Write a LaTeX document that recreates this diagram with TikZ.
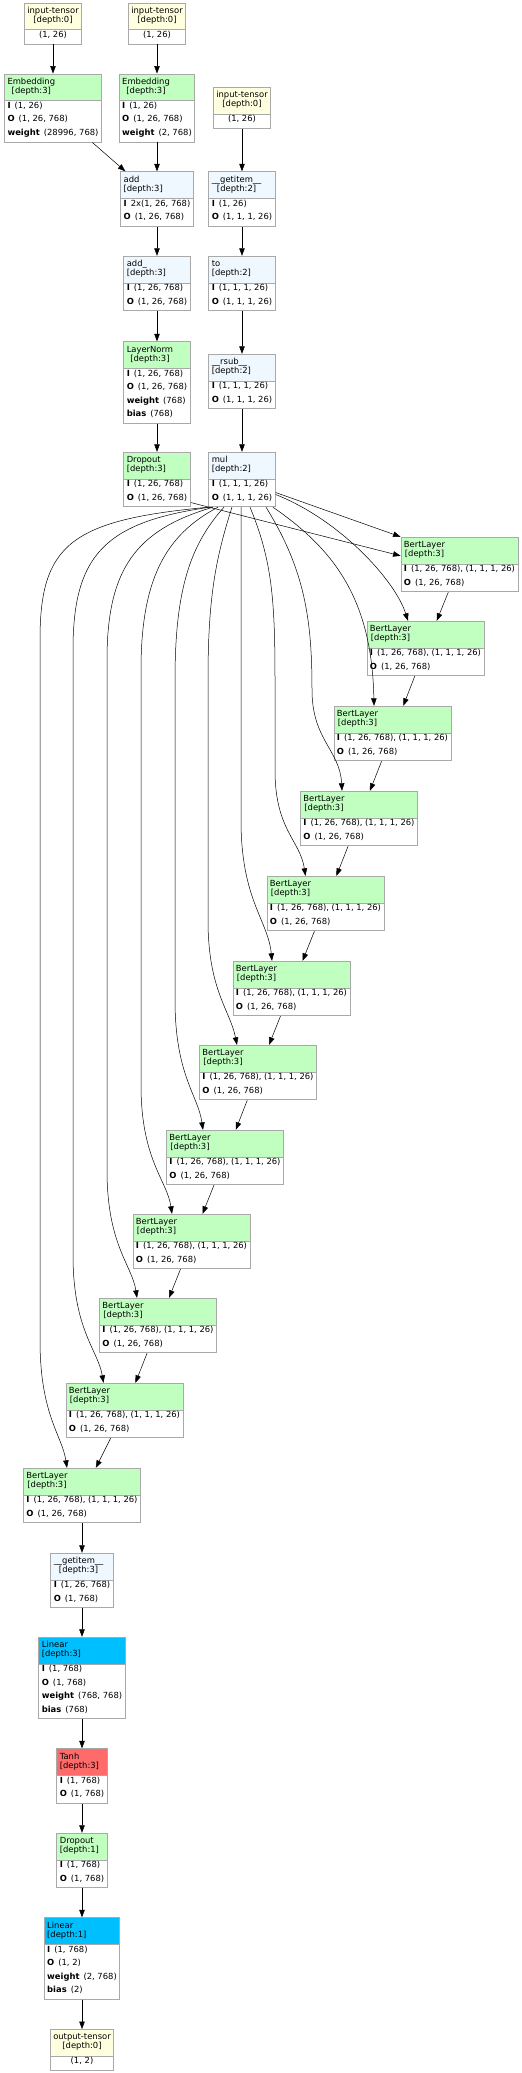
\documentclass[tikz,border=0pt]{standalone}
\usepackage{fontspec}
\setmainfont{DejaVu Sans}
\usetikzlibrary{shapes.multipart,arrows.meta}

\definecolor{tvyellow}{HTML}{FFFFE0}
\definecolor{tvgreen}{HTML}{C1FFC1}
\definecolor{tvblue}{HTML}{F0F8FF}
\definecolor{tvsky}{HTML}{00BFFF}
\definecolor{tvred}{HTML}{FF6A6A}
\definecolor{tvborder}{HTML}{A9A9A9}

% header: name over depth, the shorter line centred under the longer
\newcommand{\tvhd}[2]{%
  \setbox0\hbox{#1}\setbox2\hbox{#2}%
  \dimen0=\wd0 \ifdim\wd2>\dimen0 \dimen0=\wd2 \fi
  \rule[-7pt]{0pt}{26pt}%
  \vbox{\baselineskip=9pt\lineskiplimit=-20pt
    \hbox to\dimen0{\ifdim\wd0<\wd2 \box0\hfil\else\hfil\box0\hfil\fi}%
    \hbox to\dimen0{\hfil\box2\hfil}}}
\newcommand{\tvkv}[2]{\hbox{\rule[-6.2pt]{0pt}{13.5pt}\textbf{#1}\hspace{4pt}#2}}
\newcommand{\tvval}[1]{\hbox{\rule[-6.2pt]{0pt}{13.5pt}#1}}
\newcommand{\tvrows}[1]{\vbox{\offinterlineskip#1}}

\tikzset{
  tvnode/.style={rectangle split, rectangle split parts=2, draw=tvborder, line width=.8pt,
    inner xsep=3pt, inner ysep=0pt, rectangle split part fill={#1,white},
    rectangle split part align={left,left}, font=\fontsize{8.4}{10}\selectfont},
  tvtensor/.style={tvnode=tvyellow, rectangle split part align={center,center}},
  tvedge/.style={-{Triangle[length=7.5pt,width=5.5pt]}, line width=.5pt}
}

\begin{document}
\begin{tikzpicture}[x=1pt, y=-1pt]
\useasboundingbox (0,0) rectangle (522,2073);

\node[tvtensor] (inA) at (53,23.5) {\tvhd{input-tensor}{[depth:0]}\nodepart{two}\tvrows{\tvval{(1, 26)}}};
\node[tvtensor] (inB) at (157,23.5) {\tvhd{input-tensor}{[depth:0]}\nodepart{two}\tvrows{\tvval{(1, 26)}}};
\node[tvtensor] (inC) at (242,108) {\tvhd{input-tensor}{[depth:0]}\nodepart{two}\tvrows{\tvval{(1, 26)}}};

\node[tvnode=tvgreen] (embA) at (53,108) {\tvhd{Embedding}{[depth:3]}\nodepart{two}\tvrows{\tvkv{I}{(1, 26)}\tvkv{O}{(1, 26, 768)}\tvkv{weight}{(28996, 768)}}};
\node[tvnode=tvgreen] (embB) at (157,108) {\tvhd{Embedding}{[depth:3]}\nodepart{two}\tvrows{\tvkv{I}{(1, 26)}\tvkv{O}{(1, 26, 768)}\tvkv{weight}{(2, 768)}}};

\node[tvnode=tvblue] (add) at (157,199) {\tvhd{add}{[depth:3]}\nodepart{two}\tvrows{\tvkv{I}{2x(1, 26, 768)}\tvkv{O}{(1, 26, 768)}}};
\node[tvnode=tvblue] (iadd) at (157,283.5) {\tvhd{add\_}{[depth:3]}\nodepart{two}\tvrows{\tvkv{I}{(1, 26, 768)}\tvkv{O}{(1, 26, 768)}}};
\node[tvnode=tvgreen] (lnorm) at (157,382.5) {\tvhd{LayerNorm}{[depth:3]}\nodepart{two}\tvrows{\tvkv{I}{(1, 26, 768)}\tvkv{O}{(1, 26, 768)}\tvkv{weight}{(768)}\tvkv{bias}{(768)}}};
\node[tvnode=tvgreen] (drop) at (157,479.5) {\tvhd{Dropout}{[depth:3]}\nodepart{two}\tvrows{\tvkv{I}{(1, 26, 768)}\tvkv{O}{(1, 26, 768)}}};

\node[tvnode=tvblue] (getA) at (242,199) {\tvhd{\_\_getitem\_\_}{[depth:2]}\nodepart{two}\tvrows{\tvkv{I}{(1, 26)}\tvkv{O}{(1, 1, 1, 26)}}};
\node[tvnode=tvblue] (to) at (242,283.5) {\tvhd{to}{[depth:2]}\nodepart{two}\tvrows{\tvkv{I}{(1, 1, 1, 26)}\tvkv{O}{(1, 1, 1, 26)}}};
\node[tvnode=tvblue] (rsub) at (242,381.5) {\tvhd{\_\_rsub\_\_}{[depth:2]}\nodepart{two}\tvrows{\tvkv{I}{(1, 1, 1, 26)}\tvkv{O}{(1, 1, 1, 26)}}};
\node[tvnode=tvblue] (mul) at (242,479.5) {\tvhd{mul}{[depth:2]}\nodepart{two}\tvrows{\tvkv{I}{(1, 1, 1, 26)}\tvkv{O}{(1, 1, 1, 26)}}};

\node[tvnode=tvgreen] (bl1) at (459.5,564.5) {\tvhd{BertLayer}{[depth:3]}\nodepart{two}\tvrows{\tvkv{I}{(1, 26, 768), (1, 1, 1, 26)}\tvkv{O}{(1, 26, 768)}}};
\node[tvnode=tvgreen] (bl2) at (425.5,648.5) {\tvhd{BertLayer}{[depth:3]}\nodepart{two}\tvrows{\tvkv{I}{(1, 26, 768), (1, 1, 1, 26)}\tvkv{O}{(1, 26, 768)}}};
\node[tvnode=tvgreen] (bl3) at (392.5,733.5) {\tvhd{BertLayer}{[depth:3]}\nodepart{two}\tvrows{\tvkv{I}{(1, 26, 768), (1, 1, 1, 26)}\tvkv{O}{(1, 26, 768)}}};
\node[tvnode=tvgreen] (bl4) at (359,818.5) {\tvhd{BertLayer}{[depth:3]}\nodepart{two}\tvrows{\tvkv{I}{(1, 26, 768), (1, 1, 1, 26)}\tvkv{O}{(1, 26, 768)}}};
\node[tvnode=tvgreen] (bl5) at (325.5,903.5) {\tvhd{BertLayer}{[depth:3]}\nodepart{two}\tvrows{\tvkv{I}{(1, 26, 768), (1, 1, 1, 26)}\tvkv{O}{(1, 26, 768)}}};
\node[tvnode=tvgreen] (bl6) at (291.5,988.5) {\tvhd{BertLayer}{[depth:3]}\nodepart{two}\tvrows{\tvkv{I}{(1, 26, 768), (1, 1, 1, 26)}\tvkv{O}{(1, 26, 768)}}};
\node[tvnode=tvgreen] (bl7) at (258,1072.5) {\tvhd{BertLayer}{[depth:3]}\nodepart{two}\tvrows{\tvkv{I}{(1, 26, 768), (1, 1, 1, 26)}\tvkv{O}{(1, 26, 768)}}};
\node[tvnode=tvgreen] (bl8) at (225,1157.5) {\tvhd{BertLayer}{[depth:3]}\nodepart{two}\tvrows{\tvkv{I}{(1, 26, 768), (1, 1, 1, 26)}\tvkv{O}{(1, 26, 768)}}};
\node[tvnode=tvgreen] (bl9) at (191.5,1241.5) {\tvhd{BertLayer}{[depth:3]}\nodepart{two}\tvrows{\tvkv{I}{(1, 26, 768), (1, 1, 1, 26)}\tvkv{O}{(1, 26, 768)}}};
\node[tvnode=tvgreen] (bl10) at (158,1325.5) {\tvhd{BertLayer}{[depth:3]}\nodepart{two}\tvrows{\tvkv{I}{(1, 26, 768), (1, 1, 1, 26)}\tvkv{O}{(1, 26, 768)}}};
\node[tvnode=tvgreen] (bl11) at (124.5,1410.5) {\tvhd{BertLayer}{[depth:3]}\nodepart{two}\tvrows{\tvkv{I}{(1, 26, 768), (1, 1, 1, 26)}\tvkv{O}{(1, 26, 768)}}};
\node[tvnode=tvgreen] (bl12) at (82,1495.5) {\tvhd{BertLayer}{[depth:3]}\nodepart{two}\tvrows{\tvkv{I}{(1, 26, 768), (1, 1, 1, 26)}\tvkv{O}{(1, 26, 768)}}};

\node[tvnode=tvblue] (getB) at (82,1580.5) {\tvhd{\_\_getitem\_\_}{[depth:3]}\nodepart{two}\tvrows{\tvkv{I}{(1, 26, 768)}\tvkv{O}{(1, 768)}}};
\node[tvnode=tvsky] (linA) at (82,1678) {\tvhd{Linear}{[depth:3]}\nodepart{two}\tvrows{\tvkv{I}{(1, 768)}\tvkv{O}{(1, 768)}\tvkv{weight}{(768, 768)}\tvkv{bias}{(768)}}};
\node[tvnode=tvred] (tanh) at (82,1776) {\tvhd{Tanh}{[depth:3]}\nodepart{two}\tvrows{\tvkv{I}{(1, 768)}\tvkv{O}{(1, 768)}}};
\node[tvnode=tvgreen] (dropB) at (82,1860.5) {\tvhd{Dropout}{[depth:1]}\nodepart{two}\tvrows{\tvkv{I}{(1, 768)}\tvkv{O}{(1, 768)}}};
\node[tvnode=tvsky] (linB) at (82,1958.5) {\tvhd{Linear}{[depth:1]}\nodepart{two}\tvrows{\tvkv{I}{(1, 768)}\tvkv{O}{(1, 2)}\tvkv{weight}{(2, 768)}\tvkv{bias}{(2)}}};
\node[tvtensor] (out) at (82,2050) {\tvhd{output-tensor}{[depth:0]}\nodepart{two}\tvrows{\tvval{(1, 2)}}};

% embeddings and mask
\draw[tvedge] (inA) -- (embA);
\draw[tvedge] (inB) -- (embB);
\draw[tvedge] (inC) -- (getA);
\draw[tvedge] (embA) -- (add);
\draw[tvedge] (embB) -- (add);
\draw[tvedge] (add) -- (iadd);
\draw[tvedge] (iadd) -- (lnorm);
\draw[tvedge] (lnorm) -- (drop);
\draw[tvedge] (getA) -- (to);
\draw[tvedge] (to) -- (rsub);
\draw[tvedge] (rsub) -- (mul);

% into the first layer
\draw[tvedge] ([yshift=-23pt]drop.east) -- ([yshift=-19pt]bl1.north west);
\draw[tvedge] ([yshift=-13pt]mul.east) -- (bl1.north west);

% mask fan-out
\draw[tvedge] ([yshift=-15pt]mul.east) .. controls (340,520) and (395,580) .. ([xshift=-17.5pt]bl2.north);
\draw[tvedge] ([xshift=31pt]mul.south) .. controls (335,550) and (372,600) .. ([xshift=-18.5pt]bl3.north);
\draw[tvedge] ([xshift=24pt]mul.south) .. controls (305,570) and (312,620) .. (312,690) .. controls (312,740) and (340,750) .. ([xshift=-17pt]bl4.north);
\draw[tvedge] ([xshift=8pt]mul.south) .. controls (272,560) and (275,600) .. (275,680) -- (275,770) .. controls (275,830) and (300,840) .. ([xshift=-20pt]bl5.north);
\draw[tvedge] ([xshift=-1pt]mul.south) -- (241,820) .. controls (241,900) and (268,920) .. ([xshift=-19.5pt]bl6.north);
\draw[tvedge] ([xshift=-10pt]mul.south) .. controls (215,560) and (208,600) .. (208,680) -- (208,920) .. controls (208,990) and (230,1010) .. ([xshift=-21pt]bl7.north);
\draw[tvedge] ([xshift=-18pt]mul.south) .. controls (190,545) and (175,590) .. (175,680) -- (175,1000) .. controls (175,1075) and (198,1095) .. ([xshift=-22pt]bl8.north);
\draw[tvedge] ([xshift=-24pt]mul.south) .. controls (165,535) and (141,580) .. (141,670) -- (141,1085) .. controls (141,1160) and (167,1180) .. ([xshift=-19.5pt]bl9.north);
\draw[tvedge] ([xshift=-29pt]mul.south) .. controls (135,530) and (107,570) .. (107,660) -- (107,1170) .. controls (107,1245) and (132,1265) .. ([xshift=-21pt]bl10.north);
\draw[tvedge] ([xshift=-32pt]mul.south) .. controls (105,522) and (73,555) .. (73,650) -- (73,1255) .. controls (73,1330) and (98,1350) .. ([xshift=-21pt]bl11.north);
\draw[tvedge] (mul.south west) .. controls (70,520) and (40,545) .. (40,640) -- (40,1340) .. controls (40,1415) and (62,1435) .. ([xshift=-15pt]bl12.north);

% layer chain
\draw[tvedge] (bl1) -- (bl2);
\draw[tvedge] (bl2) -- (bl3);
\draw[tvedge] (bl3) -- (bl4);
\draw[tvedge] (bl4) -- (bl5);
\draw[tvedge] (bl5) -- (bl6);
\draw[tvedge] (bl6) -- (bl7);
\draw[tvedge] (bl7) -- (bl8);
\draw[tvedge] (bl8) -- (bl9);
\draw[tvedge] (bl9) -- (bl10);
\draw[tvedge] (bl10) -- (bl11);
\draw[tvedge] (bl11) -- (bl12);

% pooler and classifier
\draw[tvedge] (bl12) -- (getB);
\draw[tvedge] (getB) -- (linA);
\draw[tvedge] (linA) -- (tanh);
\draw[tvedge] (tanh) -- (dropB);
\draw[tvedge] (dropB) -- (linB);
\draw[tvedge] (linB) -- (out);
\end{tikzpicture}
\end{document}
